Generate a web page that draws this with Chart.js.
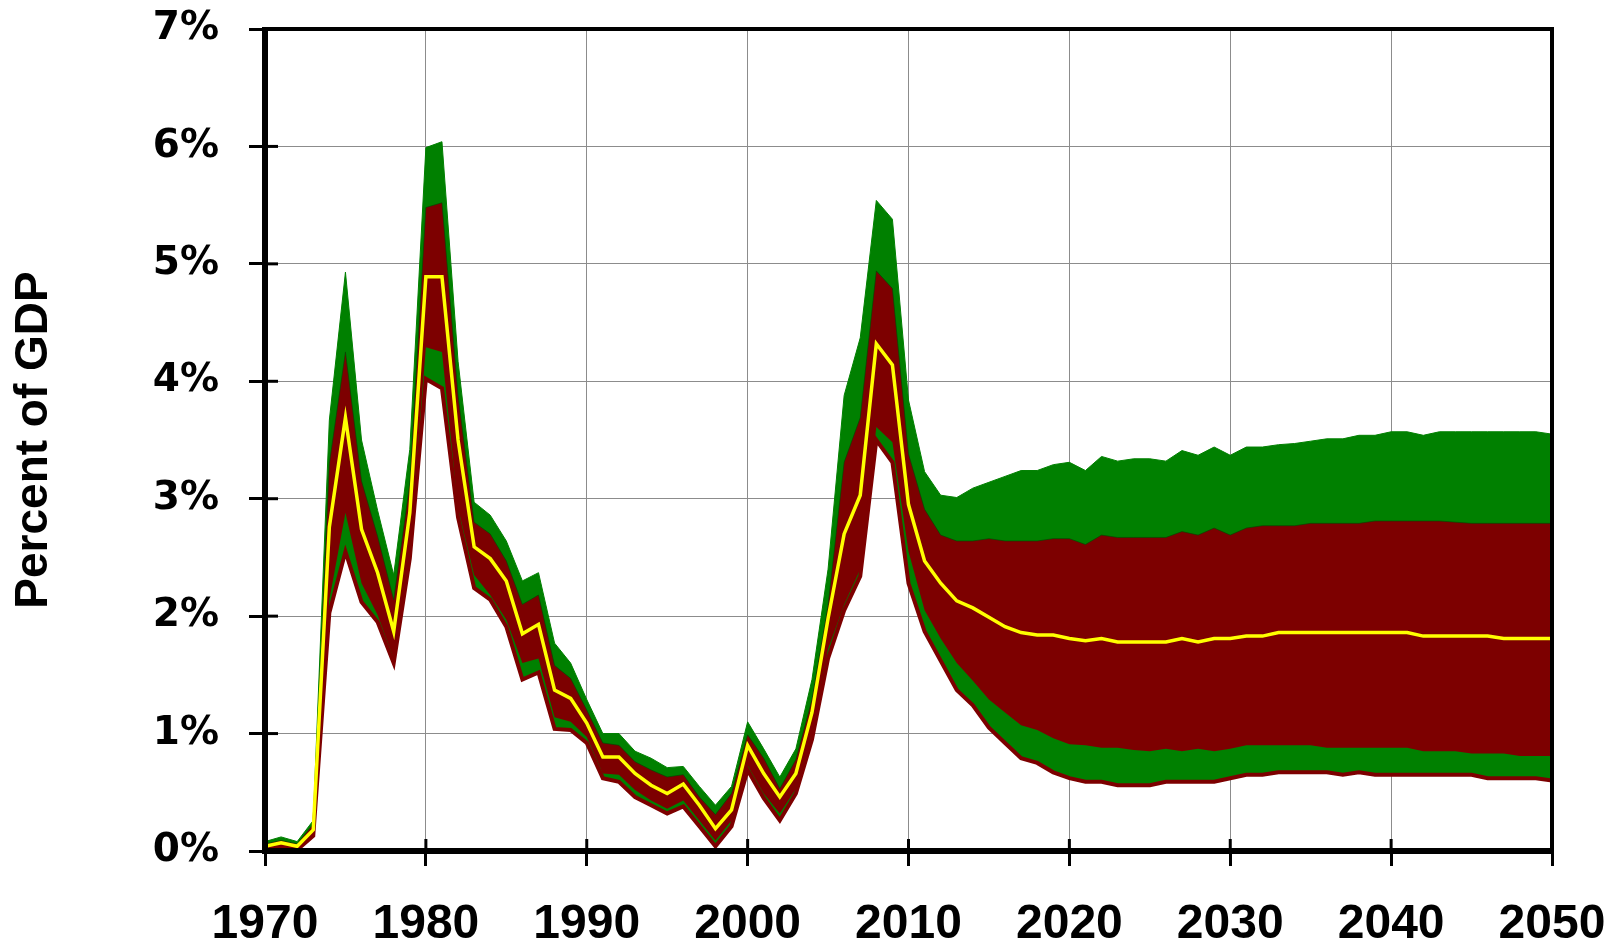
<!DOCTYPE html>
<html>
<head>
<meta charset="utf-8">
<script src="https://cdn.jsdelivr.net/npm/chart.js@4.4.1/dist/chart.umd.min.js"></script>
<style>
html,body{margin:0;padding:0;background:#fff;}
#wrap{width:1617px;height:946px;}
</style>
</head>
<body>
<div id="wrap"><canvas id="c" width="1617" height="946"></canvas></div>
<script>
const years = [1970,1971,1972,1973,1974,1975,1976,1977,1978,1979,1980,1981,1982,1983,1984,1985,1986,1987,1988,1989,
1990,1991,1992,1993,1994,1995,1996,1997,1998,1999,2000,2001,2002,2003,2004,2005,2006,2007,2008,2009,
2010,2011,2012,2013,2014,2015,2016,2017,2018,2019,2020,2021,2022,2023,2024,2025,2026,2027,2028,2029,
2030,2031,2032,2033,2034,2035,2036,2037,2038,2039,2040,2041,2042,2043,2044,2045,2046,2047,2048,2049,2050];

const outerHigh = [0.08,0.12,0.08,0.26,3.67,4.93,3.50,2.90,2.35,3.42,5.99,6.04,4.17,2.97,2.86,2.64,2.30,2.37,1.77,1.60,
1.29,1.00,1.00,0.85,0.79,0.71,0.72,0.55,0.39,0.55,1.10,0.87,0.63,0.87,1.46,2.40,3.88,4.37,5.54,5.38,
3.84,3.23,3.03,3.01,3.09,3.14,3.19,3.24,3.24,3.29,3.31,3.24,3.36,3.32,3.34,3.34,3.32,3.41,3.37,3.44,
3.37,3.44,3.44,3.46,3.47,3.49,3.51,3.51,3.54,3.54,3.57,3.57,3.54,3.57,3.57,3.57,3.57,3.57,3.57,3.57,3.55];

const innerHigh = [0.06,0.09,0.06,0.23,3.30,4.25,3.15,2.68,2.14,3.13,5.48,5.52,3.88,2.80,2.70,2.47,2.10,2.18,1.58,1.47,
1.20,0.92,0.90,0.76,0.69,0.63,0.65,0.46,0.31,0.49,0.99,0.79,0.53,0.78,1.29,2.09,3.31,3.69,4.94,4.79,
3.38,2.91,2.69,2.64,2.64,2.66,2.64,2.64,2.64,2.66,2.66,2.61,2.69,2.67,2.67,2.67,2.67,2.72,2.69,2.75,
2.69,2.75,2.77,2.77,2.77,2.79,2.79,2.79,2.79,2.81,2.81,2.81,2.81,2.81,2.80,2.79,2.79,2.79,2.79,2.79,2.79];

const median = [0.04,0.07,0.04,0.18,2.76,3.69,2.74,2.37,1.87,2.88,4.89,4.89,3.50,2.59,2.49,2.30,1.85,1.93,1.37,1.30,
1.09,0.80,0.80,0.66,0.56,0.49,0.57,0.39,0.19,0.35,0.90,0.66,0.46,0.66,1.18,1.98,2.70,3.03,4.32,4.14,
2.95,2.47,2.28,2.13,2.07,1.99,1.91,1.86,1.84,1.84,1.81,1.79,1.81,1.78,1.78,1.78,1.78,1.81,1.78,1.81,
1.81,1.83,1.83,1.86,1.86,1.86,1.86,1.86,1.86,1.86,1.86,1.86,1.83,1.83,1.83,1.83,1.83,1.81,1.81,1.81,1.81];

const innerLow = [0.02,0.04,0.02,0.15,2.14,2.88,2.28,2.01,1.64,2.59,4.29,4.25,2.92,2.35,2.18,1.97,1.60,1.64,1.14,1.10,
0.97,0.66,0.65,0.52,0.43,0.36,0.43,0.26,0.09,0.26,0.73,0.49,0.32,0.53,1.00,1.72,2.10,2.40,3.61,3.48,
2.55,2.05,1.81,1.60,1.45,1.29,1.18,1.07,1.03,0.96,0.91,0.90,0.88,0.88,0.86,0.85,0.87,0.85,0.87,0.85,
0.87,0.90,0.90,0.90,0.90,0.90,0.88,0.88,0.88,0.88,0.88,0.88,0.85,0.85,0.85,0.83,0.83,0.83,0.81,0.81,0.81];

const outerLow = [0.01,0.03,0.01,0.13,2.03,2.55,2.12,1.95,1.60,2.49,4.02,3.94,2.84,2.24,2.14,1.91,1.46,1.52,1.04,1.03,
0.92,0.62,0.59,0.46,0.39,0.32,0.38,0.21,0.04,0.21,0.69,0.45,0.26,0.49,0.95,1.64,2.05,2.34,3.50,3.31,
2.28,1.87,1.62,1.37,1.24,1.05,0.92,0.79,0.75,0.67,0.62,0.59,0.59,0.56,0.56,0.56,0.59,0.59,0.59,0.59,
0.62,0.65,0.65,0.67,0.67,0.67,0.67,0.65,0.67,0.65,0.65,0.65,0.65,0.65,0.65,0.65,0.62,0.62,0.62,0.62,0.60];

const xTicks = [1970,1980,1990,2000,2010,2020,2030,2040,2050];
const yTicks = [0,1,2,3,4,5,6,7];
const yTitle = 'Percent of GDP';

const pts = arr => years.map((y, i) => ({x: y, y: arr[i]}));

const GREEN = '#008000', RED = '#7d0000', YEL = '#ffff00';

const frame = {
  id: 'frame',
  afterDatasetsDraw(chart) {
    const {ctx, chartArea: a, scales} = chart;
    ctx.save();
    ctx.strokeStyle = '#000';
    ctx.lineCap = 'butt';
    ctx.lineWidth = 3;
    yTicks.forEach(v => {
      const py = scales.y.getPixelForValue(v);
      ctx.beginPath(); ctx.moveTo(a.left, py); ctx.lineTo(a.left + 13, py); ctx.stroke();
    });
    xTicks.forEach(v => {
      const px = scales.x.getPixelForValue(v);
      ctx.beginPath(); ctx.moveTo(px, a.bottom); ctx.lineTo(px, a.bottom - 12); ctx.stroke();
    });
    ctx.lineWidth = 4;
    ctx.beginPath(); ctx.moveTo(a.left, a.top); ctx.lineTo(a.right, a.top); ctx.lineTo(a.right, a.bottom); ctx.stroke();
    ctx.lineWidth = 6;
    ctx.beginPath(); ctx.moveTo(a.left, a.top - 2); ctx.lineTo(a.left, a.bottom); ctx.lineTo(a.right + 2, a.bottom); ctx.stroke();
    ctx.restore();
  }
};

new Chart(document.getElementById('c'), {
  type: 'line',
  data: {
    datasets: [
      {label: 'median', data: pts(median), borderColor: YEL, borderWidth: 3.5, fill: false, pointRadius: 0, tension: 0},
      {label: 'outerLow', data: pts(outerLow), borderColor: RED, borderWidth: 4, fill: false, pointRadius: 0, tension: 0},
      {label: 'innerLow', data: pts(innerLow), borderColor: 'rgba(0,0,0,0)', borderWidth: 0, fill: false, pointRadius: 0, tension: 0},
      {label: 'innerHigh', data: pts(innerHigh), borderColor: 'rgba(0,70,0,0.6)', borderWidth: 1, backgroundColor: RED, fill: 2, pointRadius: 0, tension: 0},
      {label: 'outerHigh', data: pts(outerHigh), borderColor: GREEN, borderWidth: 1, backgroundColor: GREEN, fill: 1, pointRadius: 0, tension: 0}
    ]
  },
  options: {
    responsive: false,
    animation: false,
    devicePixelRatio: 1,
    layout: {padding: {left: 0, top: 29, right: 65, bottom: 0}},
    plugins: {legend: {display: false}, tooltip: {enabled: false}, filler: {propagate: false}},
    scales: {
      x: {
        type: 'linear', min: 1970, max: 2050,
        afterBuildTicks: s => { s.ticks = xTicks.map(v => ({value: v})); },
        afterFit: s => { s.height = 95; s.paddingLeft = 0; s.paddingRight = 0; },
        ticks: {
          callback: v => String(v), color: '#000', padding: 30, maxRotation: 0, autoSkip: false,
          font: {family: '"Liberation Sans", Arial, sans-serif', size: 48, weight: 'bold'}
        },
        grid: {color: '#8c8c8c', lineWidth: 1, tickColor: '#000', tickWidth: 3, tickLength: 15, drawTicks: true},
        border: {display: false}
      },
      y: {
        min: 0, max: 7,
        afterBuildTicks: s => { s.ticks = yTicks.map(v => ({value: v})); },
        afterFit: s => { s.width = 265; s.paddingTop = 0; s.paddingBottom = 0; },
        ticks: {
          callback: v => v + '%', color: '#000', padding: 30,
          font: {family: '"DejaVu Sans", sans-serif', size: 39, weight: 'bold'}
        },
        grid: {color: '#8c8c8c', lineWidth: 1, tickColor: '#000', tickWidth: 3, tickLength: 16, drawTicks: true},
        border: {display: false},
        title: {
          display: true, text: yTitle, color: '#000', padding: {top: 7, bottom: 0},
          font: {family: '"Liberation Sans", Arial, sans-serif', size: 46, weight: 'bold'}
        }
      }
    }
  },
  plugins: [frame]
});
</script>
</body>
</html>
